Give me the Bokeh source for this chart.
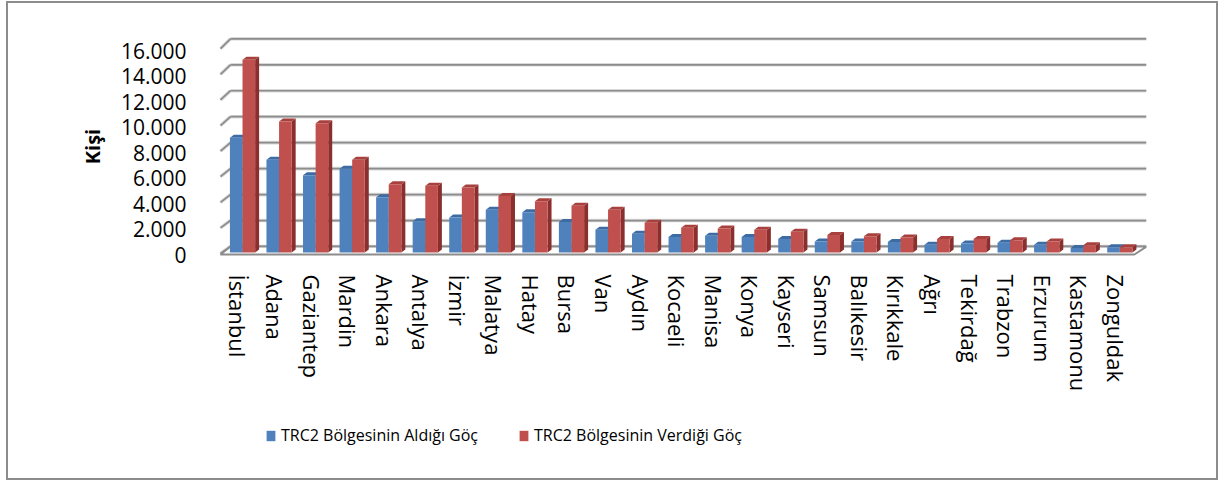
from bokeh.plotting import figure
from bokeh.layouts import column
from bokeh.models import Range1d, LinearAxis, FixedTicker, Legend, LegendItem
from bokeh.embed import file_html
from bokeh.resources import INLINE

# ---- data ----
categories = ["İstanbul", "Adana", "Gaziantep", "Mardin", "Ankara", "Antalya", "İzmir",
              "Malatya", "Hatay", "Bursa", "Van", "Aydın", "Kocaeli", "Manisa", "Konya",
              "Kayseri", "Samsun", "Balıkesir", "Kırıkkale", "Ağrı", "Tekirdağ", "Trabzon",
              "Erzurum", "Kastamonu", "Zonguldak"]
aldigi = [8850, 7150, 5950, 6450, 4250, 2400, 2700, 3300, 3100, 2350, 1750, 1450, 1200,
          1300, 1200, 1050, 850, 850, 800, 600, 700, 750, 600, 350, 400]
verdigi = [14850, 10100, 9950, 7150, 5250, 5150, 5000, 4350, 3950, 3600, 3300, 2300, 1900,
           1850, 1750, 1600, 1350, 1250, 1150, 1050, 1050, 950, 850, 550, 400]
series_names = ["TRC2 Bölgesinin Aldığı Göç", "TRC2 Bölgesinin Verdiği Göç"]
y_ticks = [0, 2000, 4000, 6000, 8000, 10000, 12000, 14000, 16000]
y_tick_labels = ["0", "2.000", "4.000", "6.000", "8.000", "10.000", "12.000", "14.000", "16.000"]
y_title = "Kişi"

FONT = "Open Sans"
BLUE, BLUE_TOP, BLUE_SIDE = "#4F81BD", "#3D6BA3", "#34598A"
RED, RED_TOP, RED_SIDE = "#C0504D", "#A8413E", "#8A2F2D"
GRID = "#8c8c8c"
GRID_HALO = "#dadada"

n = len(categories)

p = figure(width=1208, height=410, output_backend="svg", toolbar_location=None,
           x_range=Range1d(-0.547, 24.84), y_range=Range1d(-770, 17103),
           y_axis_location=None,
           min_border_left=210, min_border_right=70, min_border_top=27, min_border_bottom=151)
p.extra_y_ranges = {"front": Range1d(-627, 17569)}
p.outline_line_color = None
p.grid.visible = False
p.background_fill_color = "white"
p.border_fill_color = "white"

# ---- 3D walls: back gridlines + left diagonals ----
front_x, back_x, right_x = -0.492, -0.219, 24.84
depth_y = 462
gy_back = [v + depth_y for v in y_ticks]
gy_front = [-77 + 0.986 * v for v in y_ticks]
for w, c in [(3.6, GRID_HALO), (1.7, GRID)]:
    p.segment(x0=[back_x] * len(y_ticks), y0=gy_back, x1=[right_x] * len(y_ticks), y1=gy_back,
              line_color=c, line_width=w)
    p.segment(x0=[front_x] * len(y_ticks), y0=gy_front, x1=[back_x] * len(y_ticks), y1=gy_back,
              line_color=c, line_width=w)

# floor
floor_front_y = -154
p.patch(x=[front_x, 24.51, right_x, back_x], y=[floor_front_y, floor_front_y, depth_y, depth_y],
        fill_color="white", line_color=GRID, line_width=2)

# ---- 3D bars ----
bw, off, ddx, ddy = 0.345, 0.11, 0.109, 231


def bars3d(fig, vals, left_shift, front, top, side):
    x0 = [i + off + left_shift for i in range(n)]
    x1 = [a + bw for a in x0]
    side_xs = [[b, b + ddx, b + ddx, b] for b in x1]
    side_ys = [[0, ddy, v + ddy, v] for v in vals]
    top_xs = [[a, a + ddx, b + ddx, b] for a, b in zip(x0, x1)]
    top_ys = [[v, v + ddy, v + ddy, v] for v in vals]
    fig.patches(xs=side_xs, ys=side_ys, fill_color=side, line_color=None)
    fig.patches(xs=top_xs, ys=top_ys, fill_color=top, line_color=None)
    return fig.quad(left=x0, right=x1, bottom=[0] * n, top=vals, fill_color=front, line_color=None)


bars3d(p, aldigi, -bw, BLUE, BLUE_TOP, BLUE_SIDE)
bars3d(p, verdigi, 0.0, RED, RED_TOP, RED_SIDE)

# ---- axes ----
yaxis = LinearAxis(y_range_name="front", ticker=FixedTicker(ticks=y_ticks))
yaxis.major_label_overrides = {t: l for t, l in zip(y_ticks, y_tick_labels)}
yaxis.axis_line_color = None
yaxis.major_tick_line_color = None
yaxis.minor_tick_line_color = None
yaxis.major_label_standoff = 26
yaxis.major_label_text_font = FONT
yaxis.major_label_text_font_size = "21px"
yaxis.major_label_text_color = "black"
yaxis.axis_label = y_title
yaxis.axis_label_text_font = FONT
yaxis.axis_label_text_font_style = "bold"
yaxis.axis_label_text_font_size = "20px"
yaxis.axis_label_text_color = "black"
yaxis.axis_label_standoff = 12
p.add_layout(yaxis, "left")

xa = p.xaxis[0]
xa.ticker = FixedTicker(ticks=list(range(n)))
xa.major_label_overrides = {i: c for i, c in enumerate(categories)}
xa.major_label_orientation = "vertical"
xa.axis_line_color = None
xa.major_tick_line_color = None
xa.minor_tick_line_color = None
xa.major_label_standoff = 6
xa.major_label_text_font = FONT
xa.major_label_text_font_size = "22px"
xa.major_label_text_color = "black"

# ---- legend strip (second figure under the chart; its frame is aligned with the chart's) ----
lg = figure(width=1208, height=65, output_backend="svg", toolbar_location=None,
            x_range=Range1d(0, 1), y_range=Range1d(0, 1),
            x_axis_location=None, y_axis_location=None,
            min_border_left=0, min_border_right=0, min_border_top=0, min_border_bottom=0)
lg.outline_line_color = None
lg.grid.visible = False
# swatch renderers kept outside the visible range (only their legend entries show)
r_blue = lg.quad(left=[5], right=[6], bottom=[5], top=[6], fill_color=BLUE, line_color=None)
r_red = lg.quad(left=[5], right=[6], bottom=[5], top=[6], fill_color=RED, line_color=None)
legend = Legend(items=[LegendItem(label=series_names[0], renderers=[r_blue]),
                       LegendItem(label=series_names[1], renderers=[r_red])],
                orientation="horizontal", location=(47, 32),
                glyph_width=11, glyph_height=13, label_height=14, label_standoff=5,
                spacing=40, padding=0, margin=0,
                border_line_color=None, background_fill_alpha=0,
                label_text_font=FONT, label_text_font_size="16px", label_text_color="black")
lg.add_layout(legend, "center")

layout = column(p, lg, spacing=0,
                styles={"border": "2px solid #8c8c8c", "margin-left": "6px", "margin-top": "1px"})

open("out.html", "w").write(file_html(layout, INLINE))
